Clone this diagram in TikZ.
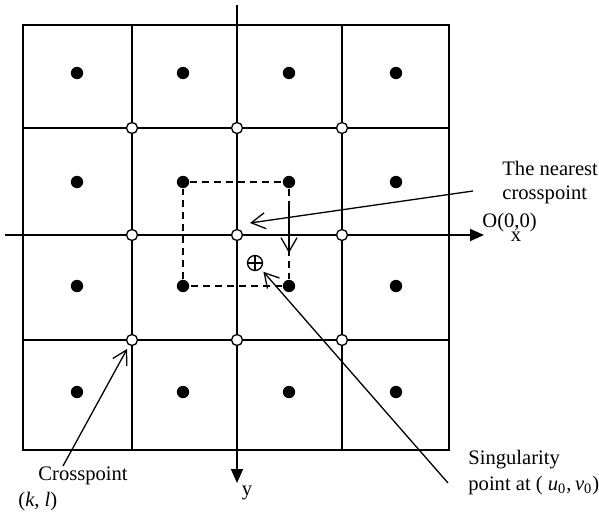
\documentclass[tikz,border=0pt]{standalone}
\usepackage{fontspec}
\setmainfont{Liberation Serif}
\usetikzlibrary{arrows.meta}

\begin{document}
\begin{tikzpicture}[x=0.5pt,y=-0.5pt,
	dot/.style={circle,fill=black,inner sep=0pt,minimum size=6.2pt},
	cross/.style={circle,draw,fill=white,line width=0.65pt,inner sep=0pt,minimum size=5.5pt},
	lbl/.style={inner sep=0pt,font=\fontsize{10.3}{12}\selectfont},
	pointer/.style={-{Straight Barb[length=7pt,width=8pt]},line width=0.65pt},
	axis/.style={-{Triangle[length=7pt,width=6pt]},line width=0.9pt}]
		\useasboundingbox (0,0) rectangle (599,514);
		
		% Grid
		\draw[line width=0.9pt] (23,25) rectangle (449,450);
		\foreach \gx in {132,237,342}
			\draw[line width=0.9pt] (\gx,25) -- (\gx,450);
		\foreach \gy in {128,235,340}
			\draw[line width=0.9pt] (23,\gy) -- (449,\gy);
		
		% Axes
		\coordinate (xfrom) at (5,235);
		\coordinate (xto) at (484,235);
		\coordinate (yfrom) at (237,5);
		\coordinate (yto) at (237,483);
		\draw[axis] (xfrom) -- (xto);
		\draw[axis] (yfrom) -- (yto);
		\node[lbl,anchor=base west] (origin) at (482,227) {O(0,0)};
		\node[lbl,anchor=base] (xlbl) at (516,241) {x};
		\node[lbl,anchor=base] (ylbl) at (247,495) {y};
		
		% Cell centres
		\foreach \px [count=\i] in {77,183,289,396}
			\foreach \py [count=\j] in {73,182,286,392}
				\node[dot] (d\i\j) at (\px,\py) {};
		
		% Crosspoints
		\foreach \px [count=\i] in {132,237,342}
			\foreach \py [count=\j] in {128,235,340}
				\node[cross] (c\i\j) at (\px,\py) {};
		
		% Window round the singularity
		\draw[dash pattern=on 3.5pt off 2.5pt,line width=0.65pt] (d22) -- (d32) -- (d33) -- (d23) -- (d22);
		\node[circle,draw,line width=0.65pt,inner sep=0pt,minimum size=7.5pt] (sing) at (255,263) {};
		\draw[line width=0.65pt] (sing.north) -- (sing.south) (sing.west) -- (sing.east);
		
		% Arrow
		\coordinate (shiftfrom) at (289,205);
		\coordinate (shiftto) at (289,253);
		\draw[pointer] (shiftfrom) -- (shiftto);
		
		% The nearest crosspoint
		\node[lbl,anchor=base west] (near1) at (502,175) {The nearest};
		\node[lbl,anchor=base west] (near2) at (502,199) {crosspoint};
		\coordinate (nearfrom) at (473,191);
		\coordinate (nearto) at (250,223);
		\draw[pointer] (nearfrom) -- (nearto);
		
		% Crosspoint (k,l)
		\node[lbl,anchor=base west] (cp1) at (38,480) {Crosspoint};
		\node[lbl,anchor=base west] (cp2) at (18,506) {(\textit{k}, \textit{l})};
		\coordinate (cpfrom) at (63,466);
		\draw[pointer,shorten >=2pt] (cpfrom) -- (c13);
		
		% Singularity
		\node[lbl,anchor=base west] (sing1) at (468,464) {Singularity};
		\node[lbl,anchor=base west] (sing2) at (468,490) {point at ( \textit{u}\textsubscript{0},\,\textit{v}\textsubscript{0})};
		\coordinate (singfrom) at (448,483);
		\draw[pointer,shorten >=2pt] (singfrom) -- (sing.south east);
		
	\end{tikzpicture}
\end{document}
